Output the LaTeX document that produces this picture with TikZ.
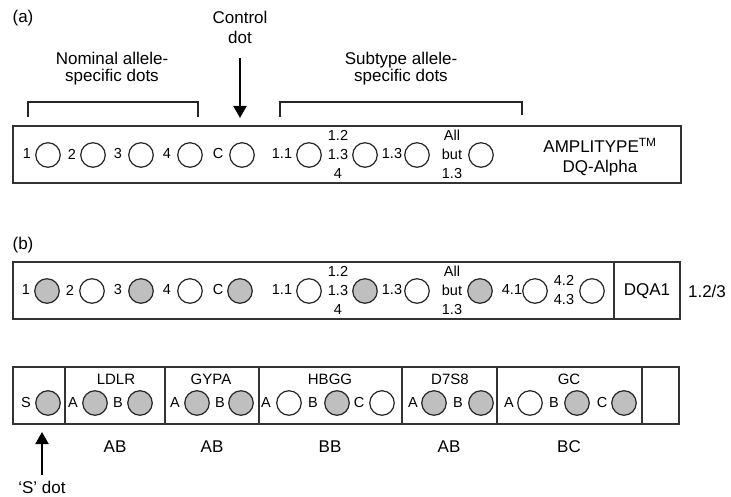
\documentclass[tikz,border=0pt]{standalone}
\usepackage{fontspec}
\setmainfont{Liberation Sans}
\usetikzlibrary{arrows.meta}
\tikzset{
  lab/.style={font=\fontsize{17}{20}\selectfont, inner sep=0pt, align=center},
  dlab/.style={font=\fontsize{14.5}{19}\selectfont, inner sep=0pt, align=center},
  hdr/.style={font=\fontsize{15}{18}\selectfont, inner sep=0pt},
  dotbase/.style={circle, draw=black!85, line width=1.2pt, minimum size=24.5pt, inner sep=0pt},
  fdot/.style={dotbase, fill=black!25},
  odot/.style={dotbase, fill=white},
  frame/.style={draw=black!80, line width=1.4pt},
  brk/.style={draw=black!85, line width=1.2pt},
  arr/.style={draw=black, line width=2pt, -{Triangle[length=12pt,width=13pt]}},
}
\begin{document}
\begin{tikzpicture}[x=1pt,y=-1pt]
\useasboundingbox (0,0) rectangle (731,497);
% ---------- (a)
\node[lab] (ta) at (23,18) {(a)};
\node[lab] (ctrl) at (240,27) {Control\\dot};
\coordinate (ctop) at (240,58);
\coordinate (ctip) at (240,118);
\draw[arr] (ctop) -- (ctip);
\node[lab, font=\fontsize{17}{17}\selectfont] (nom) at (112,69) {Nominal allele-\\specific dots};
\node[lab, font=\fontsize{17}{17}\selectfont] (sub) at (401,69) {Subtype allele-\\specific dots};
\draw[brk] (28,117) -- (28,102) -- (198,102) -- (198,117);
\draw[brk] (280,117) -- (280,102) -- (522,102) -- (522,115);
\draw[frame] (13,126) rectangle (681,183);
\foreach \lx/\t/\cx/\s [count=\i] in {27/1/48/odot, 72/2/93/odot, 118/3/141/odot, 167/4/190/odot, 218/C/242/odot, 282/1.1/309/odot, 338/{1.2\\1.3\\4}/365/odot, 392/1.3/417/odot, 452/{All\\but\\1.3}/481/odot}
{
  \node[dlab] (la\i) at (\lx,154) {\t};
  \node[\s] (da\i) at (\cx,155) {};
}
\node[lab] (amp) at (600,157) {AMPLITYPE\textsuperscript{TM}\\DQ-Alpha};
% ---------- (b)
\node[lab] (tb) at (23,245) {(b)};
\draw[frame] (13,262) rectangle (680,319);
\draw[frame] (614,262) -- (614,319);
\foreach \lx/\t/\cx/\s [count=\i] in {26/1/47/fdot, 70/2/92/odot, 118/3/141/fdot, 167/4/190/odot, 218/C/240/fdot, 282/1.1/309/odot, 338/{1.2\\1.3\\4}/365/fdot, 392/1.3/417/odot, 452/{All\\but\\1.3}/480/fdot, 512/4.1/535/odot, 564/{4.2\\4.3}/592/odot}
{
  \node[dlab] (lb\i) at (\lx,290) {\t};
  \node[\s] (db\i) at (\cx,291) {};
}
\node[lab] (dqa) at (647,291) {DQA1};
\node[lab] (res) at (707,291) {1.2/3};
% ---------- bottom strip
\draw[frame] (13,367) rectangle (679,424);
\foreach \x in {65,165,259,402,497,642} { \draw[frame] (\x,367) -- (\x,424); }
\foreach \hx/\t [count=\i] in {116/LDLR, 211/GYPA, 330/HBGG, 450/D7S8, 569/GC}
{
  \node[hdr] (h\i) at (\hx,379) {\t};
}
\foreach \lx/\t/\cx/\s [count=\i] in {26/S/48/fdot, 73/A/95/fdot, 118/B/140/fdot, 175/A/197/fdot, 220/B/241/fdot, 266/A/289/odot, 313/B/337/fdot, 359/C/382/odot, 413/A/434/fdot, 458/B/481/fdot, 509/A/530/odot, 554/B/577/fdot, 602/C/624/fdot}
{
  \node[dlab] (lc\i) at (\lx,403) {\t};
  \node[\s] (dc\i) at (\cx,403) {};
}
\foreach \gx/\t [count=\i] in {115/AB, 212/AB, 330/BB, 449/AB, 569/BC}
{
  \node[lab] (g\i) at (\gx,447) {\t};
}
\coordinate (sbase) at (42,475);
\coordinate (stip) at (42,432);
\draw[arr] (sbase) -- (stip);
\node[lab] (sdot) at (42,487) {‘S’ dot};
\end{tikzpicture}
\end{document}
